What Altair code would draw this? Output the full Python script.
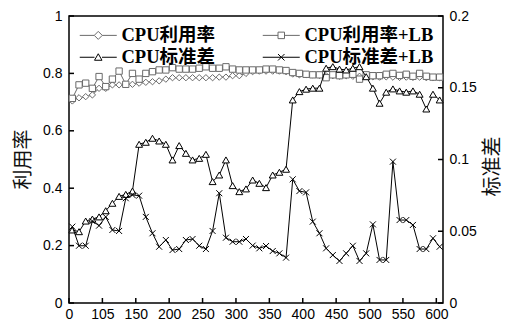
import altair as alt
import pandas as pd

# ---------------- data ----------------
x_pos = [5, 15, 25, 35, 45, 55, 65, 75, 85, 95,
         105, 115, 125, 135, 145, 155, 165, 175, 185, 195,
         205, 215, 225, 235, 245, 255, 265, 275, 285, 295,
         305, 315, 325, 335, 345, 355, 365, 375, 385, 395,
         405, 415, 425, 435, 445, 455, 465, 475, 485, 495,
         505, 515, 525, 535, 545, 555]

cpu_util = [0.704, 0.715, 0.719, 0.725, 0.748, 0.748, 0.760, 0.760, 0.762, 0.762,
            0.766, 0.769, 0.771, 0.774, 0.780, 0.785, 0.785, 0.785, 0.785, 0.785,
            0.785, 0.785, 0.787, 0.787, 0.792, 0.792, 0.800, 0.806, 0.808, 0.808,
            0.808, 0.808, 0.806, 0.798, 0.795, 0.795, 0.795, 0.793, 0.792, 0.792,
            0.790, 0.792, 0.790, 0.790, 0.790, 0.788, 0.787, 0.788, 0.787, 0.786,
            0.787, 0.786, 0.787, 0.785, 0.785, 0.785]

cpu_util_lb = [0.713, 0.760, 0.766, 0.748, 0.789, 0.754, 0.780, 0.808, 0.762, 0.800,
               0.780, 0.800, 0.806, 0.812, 0.812, 0.820, 0.815, 0.815, 0.815, 0.818,
               0.823, 0.818, 0.818, 0.823, 0.815, 0.812, 0.812, 0.812, 0.812, 0.815,
               0.815, 0.812, 0.810, 0.803, 0.800, 0.797, 0.795, 0.795, 0.785, 0.795,
               0.792, 0.795, 0.797, 0.780, 0.795, 0.792, 0.792, 0.797, 0.800, 0.793,
               0.797, 0.790, 0.800, 0.790, 0.787, 0.787]

cpu_std = [0.0509, 0.0497, 0.0571, 0.0585, 0.0600, 0.0643, 0.0695, 0.0743, 0.0757, 0.0780,
           0.1106, 0.1120, 0.1148, 0.1129, 0.1106, 0.0997, 0.1097, 0.1043, 0.0997, 0.1008,
           0.1036, 0.0846, 0.0892, 0.0997, 0.0818, 0.0776, 0.0795, 0.0857, 0.0834, 0.0804,
           0.0892, 0.0911, 0.0932, 0.1415, 0.1473, 0.1490, 0.1497, 0.1497, 0.1636, 0.1647,
           0.1630, 0.1624, 0.1636, 0.1647, 0.1577, 0.1497, 0.1392, 0.1469, 0.1492, 0.1478,
           0.1469, 0.1478, 0.1455, 0.1352, 0.1455, 0.1415]

cpu_std_lb = [0.0532, 0.0399, 0.0399, 0.0571, 0.0539, 0.0600, 0.0509, 0.0502, 0.0730, 0.0753,
              0.0748, 0.0600, 0.0486, 0.0392, 0.0439, 0.0369, 0.0376, 0.0439, 0.0446, 0.0399,
              0.0376, 0.0502, 0.0765, 0.0455, 0.0427, 0.0427, 0.0446, 0.0400, 0.0381, 0.0397,
              0.0362, 0.0346, 0.0316, 0.0862, 0.0780, 0.0771, 0.0567, 0.0486, 0.0381, 0.0334,
              0.0293, 0.0346, 0.0399, 0.0293, 0.0346, 0.0548, 0.0300, 0.0300, 0.0985, 0.0578,
              0.0578, 0.0544, 0.0376, 0.0376, 0.0451, 0.0392]

x_tick_values = [0, 50, 100, 150, 200, 250, 300, 350, 400, 450, 500, 550]
x_tick_labels = ["0", "105", "150", "200", "250", "300", "350", "400", "450", "500", "550", "600"]
left_ticks = [0, 0.2, 0.4, 0.6, 0.8, 1.0]
right_ticks = [0, 0.05, 0.1, 0.15, 0.2]

# legend order (filled column by column)
series_names = ["CPU利用率", "CPU标准差", "CPU利用率+LB", "CPU标准差+LB"]

# ---------------- styling ----------------
W, H = 374, 287
GRAY = "#6a6a6a"
BLACK = "#000000"
X_PATH = "M-1,-1L1,1M-1,1L1,-1"
legend_paths = [
    "M-3.7,0H-0.8M0.8,0H3.7M0,-0.8L0.8,0L0,0.8L-0.8,0Z",
    "M-3.7,0H-0.75M0.75,0H3.7M0,-0.7L0.75,0.6H-0.75Z",
    "M-3.7,0H-0.65M0.65,0H3.7M-0.65,-0.65H0.65V0.65H-0.65Z",
    "M-3.7,0H3.7M-0.65,-0.65L0.65,0.65M-0.65,0.65L0.65,-0.65",
]
legend_colors = [GRAY, BLACK, GRAY, BLACK]

label_expr = "[" + ",".join("'%s'" % s for s in x_tick_labels) + "][round(datum.value/50)]"

x_enc = alt.X("x:Q",
              scale=alt.Scale(domain=[0, 560], nice=False, zero=False),
              axis=alt.Axis(values=x_tick_values, labelExpr=label_expr, title=None,
                            ticks=False, tickSize=0, grid=False, domain=False,
                            labelFont="Liberation Sans", labelFontSize=14, labelPadding=4,
                            labelFlush=False, labelOverlap=False, labelColor="black"))

yl_enc = alt.Y("u:Q",
               scale=alt.Scale(domain=[0, 1], nice=False, zero=True),
               axis=alt.Axis(orient="left", values=left_ticks, format="~g", title="利用率",
                             ticks=False, tickSize=0, grid=False, domain=False,
                             labelFont="Liberation Sans", labelFontSize=14, labelPadding=7,
                             labelColor="black",
                             titleFont="Noto Sans CJK SC", titleFontSize=20, titleFontWeight="normal",
                             titleColor="#111", titleAngle=270, titleX=-46, titleY=143,
                             titleAlign="center", titleBaseline="middle"))

yr_enc = alt.Y("s:Q",
               scale=alt.Scale(domain=[0, 0.2], nice=False, zero=True),
               axis=alt.Axis(orient="right", values=right_ticks, format="~g", title="标准差",
                             ticks=False, tickSize=0, grid=False, domain=False,
                             labelFont="Liberation Sans", labelFontSize=14, labelPadding=6,
                             labelColor="black",
                             titleFont="Noto Sans CJK SC", titleFontSize=20, titleFontWeight="normal",
                             titleColor="#111", titleAngle=270, titleX=49, titleY=150,
                             titleAlign="center", titleBaseline="middle"))


def series_layers(values, col, y_enc, color, shape, size):
    df = pd.DataFrame({"x": x_pos, col: values})
    base = alt.Chart(df)
    line = base.mark_line(strokeWidth=1, color=color).encode(x=x_enc, y=y_enc)
    pts = base.mark_point(filled=True, fill="white", stroke=color, strokeWidth=1,
                          shape=shape, size=size, opacity=1).encode(x=x_enc, y=y_enc)
    return [line, pts]


# inward tick marks drawn from the tick value lists through the scales
lt = alt.Chart(pd.DataFrame({"u": left_ticks})).mark_rule(color="black", strokeWidth=1.5).encode(
    y=yl_enc, x=alt.value(0), x2=alt.value(5))
bt = alt.Chart(pd.DataFrame({"x": x_tick_values})).mark_rule(color="black", strokeWidth=1.5).encode(
    x=x_enc, y=alt.value(H), y2=alt.value(H - 5))
rt = alt.Chart(pd.DataFrame({"s": right_ticks})).mark_rule(color="black", strokeWidth=1.5).encode(
    y=yr_enc, x=alt.value(W - 5), x2=alt.value(W))

left_group = alt.layer(
    lt, bt,
    *series_layers(cpu_util, "u", yl_enc, GRAY, "diamond", 40),
    *series_layers(cpu_util_lb, "u", yl_enc, GRAY, "square", 40),
)
right_group = alt.layer(
    rt,
    *series_layers(cpu_std, "s", yr_enc, BLACK, "triangle-up", 48),
    *series_layers(cpu_std_lb, "s", yr_enc, BLACK, X_PATH, 36),
)

leg = dict(title=None, orient="none", legendX=20, legendY=10, columns=2,
           columnPadding=44, rowPadding=3, symbolSize=100, symbolStrokeWidth=1,
           symbolOpacity=1, labelFont="Liberation Serif, Noto Sans CJK SC", labelFontSize=18.5,
           labelFontWeight="bold", labelOffset=14, labelColor="black", padding=0,
           labelLimit=0)
legend_layer = alt.Chart(pd.DataFrame({"series": series_names})).mark_point(
    filled=False, opacity=0).encode(
    color=alt.Color("series:N", scale=alt.Scale(domain=series_names, range=legend_colors),
                    sort=series_names, legend=alt.Legend(**leg)),
    shape=alt.Shape("series:N", scale=alt.Scale(domain=series_names, range=legend_paths),
                    sort=series_names, legend=alt.Legend(**leg)),
)

chart = alt.layer(left_group, right_group, legend_layer).resolve_scale(
    y="independent"
).properties(
    width=W, height=H,
    autosize=alt.AutoSizeParams(type="none"),
    padding={"left": 61, "top": 8, "right": 63, "bottom": 20},
).configure_view(stroke="black", strokeWidth=1.5)

chart.save("out.html", embed_options={"renderer": "svg", "actions": False})
